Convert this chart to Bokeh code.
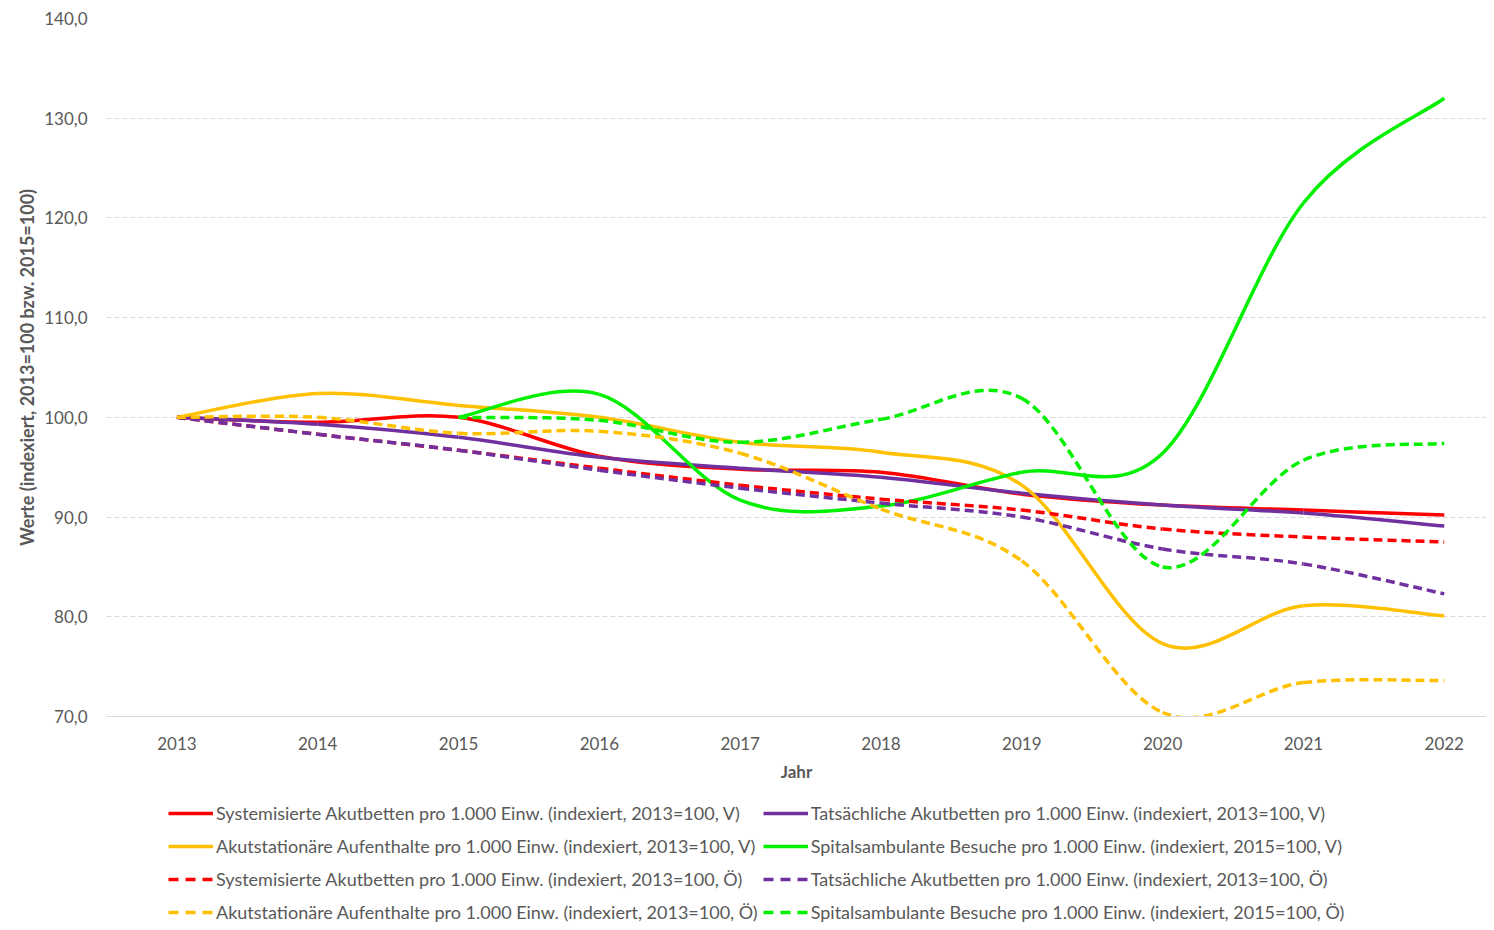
from bokeh.plotting import figure
from bokeh.layouts import column
from bokeh.models import Range1d, Legend, LegendItem, CustomJSTickFormatter, FixedTicker
from bokeh.embed import file_html
from bokeh.resources import INLINE

years = [2013, 2014, 2015, 2016, 2017, 2018, 2019, 2020, 2021, 2022]
sys_v = [100.0, 99.5, 100.0, 96.1, 94.8, 94.5, 92.3, 91.2, 90.7, 90.2]
tat_v = [100.0, 99.3, 98.0, 96.0, 94.9, 94.0, 92.4, 91.2, 90.4, 89.1]
akut_v = [100.0, 102.4, 101.2, 100.0, 97.5, 96.5, 93.2, 77.3, 81.1, 80.1]
spital_v = [None, None, 100.0, 102.3, 91.7, 91.1, 94.5, 96.4, 121.5, 132.0]
sys_o = [100.0, 98.3, 96.7, 94.9, 93.2, 91.8, 90.7, 88.8, 88.0, 87.5]
tat_o = [100.0, 98.3, 96.7, 94.7, 92.9, 91.4, 90.0, 86.8, 85.3, 82.3]
akut_o = [100.0, 100.0, 98.4, 98.6, 96.4, 90.8, 85.6, 70.4, 73.4, 73.6]
spital_o = [None, None, 100.0, 99.7, 97.5, 99.8, 101.9, 85.0, 95.7, 97.4]

labels = [
    "Systemisierte Akutbetten pro 1.000 Einw. (indexiert, 2013=100, V)",
    "Tatsächliche Akutbetten pro 1.000 Einw. (indexiert, 2013=100, V)",
    "Akutstationäre Aufenthalte pro 1.000 Einw. (indexiert, 2013=100, V)",
    "Spitalsambulante Besuche pro 1.000 Einw. (indexiert, 2015=100, V)",
    "Systemisierte Akutbetten pro 1.000 Einw. (indexiert, 2013=100, Ö)",
    "Tatsächliche Akutbetten pro 1.000 Einw. (indexiert, 2013=100, Ö)",
    "Akutstationäre Aufenthalte pro 1.000 Einw. (indexiert, 2013=100, Ö)",
    "Spitalsambulante Besuche pro 1.000 Einw. (indexiert, 2015=100, Ö)",
]
series = [sys_v, tat_v, akut_v, spital_v, sys_o, tat_o, akut_o, spital_o]
colors = ["#FF0000", "#7030A0", "#FFC000", "#00F000"] * 2
dashes = ["solid"] * 4 + ["9 5"] * 4

FONT = "Lato"
GREY = "#595959"

p = figure(width=1486, height=784, output_backend="svg", toolbar_location=None,
           x_range=Range1d(2012.5, 2022.3), y_range=Range1d(70, 140),
           min_border_left=106, min_border_right=0, min_border_top=18,
           min_border_bottom=68)
p.outline_line_color = None

def smooth_segments(xs, ys):
    pts = [(x, y) for x, y in zip(xs, ys) if y is not None]
    n = len(pts)
    d = dict(x0=[], y0=[], x1=[], y1=[], cx0=[], cy0=[], cx1=[], cy1=[])
    for i in range(n - 1):
        pp = pts[i - 1] if i > 0 else pts[i]
        p0 = pts[i]
        p1 = pts[i + 1]
        pn = pts[i + 2] if i + 2 < n else pts[i + 1]
        d["x0"].append(p0[0]); d["y0"].append(p0[1])
        d["x1"].append(p1[0]); d["y1"].append(p1[1])
        d["cx0"].append(p0[0] + (p1[0] - pp[0]) / 6.0)
        d["cy0"].append(p0[1] + (p1[1] - pp[1]) / 6.0)
        d["cx1"].append(p1[0] - (pn[0] - p0[0]) / 6.0)
        d["cy1"].append(p1[1] - (pn[1] - p0[1]) / 6.0)
    return d

for ys, c, dsh in zip(series, colors, dashes):
    d = smooth_segments(years, ys)
    p.bezier(x0=d["x0"], y0=d["y0"], x1=d["x1"], y1=d["y1"],
             cx0=d["cx0"], cy0=d["cy0"], cx1=d["cx1"], cy1=d["cy1"],
             line_color=c, line_width=3.5, line_dash=dsh)

# axes
p.xaxis.ticker = FixedTicker(ticks=years)
p.xaxis.formatter = CustomJSTickFormatter(code="return tick.toFixed(0);")
p.xaxis.axis_line_color = "#D9D9D9"
p.xaxis.major_tick_line_color = None
p.xaxis.minor_tick_line_color = None
p.xaxis.major_label_text_font = FONT
p.xaxis.major_label_text_font_size = "17px"
p.xaxis.major_label_text_color = GREY
p.xaxis.major_label_standoff = 14
p.xaxis.axis_label = "Jahr"
p.xaxis.axis_label_text_font = FONT
p.xaxis.axis_label_text_font_size = "17px"
p.xaxis.axis_label_text_font_style = "bold"
p.xaxis.axis_label_text_color = GREY
p.xaxis.axis_label_standoff = 8

p.yaxis.ticker = FixedTicker(ticks=[70, 80, 90, 100, 110, 120, 130, 140])
p.yaxis.formatter = CustomJSTickFormatter(code="return tick.toFixed(1).replace('.', ',');")
p.yaxis.axis_line_color = None
p.yaxis.major_tick_line_color = None
p.yaxis.minor_tick_line_color = None
p.yaxis.major_label_text_font = FONT
p.yaxis.major_label_text_font_size = "17px"
p.yaxis.major_label_text_color = GREY
p.yaxis.major_label_standoff = 13
p.yaxis.axis_label = "Werte (indexiert, 2013=100 bzw. 2015=100)"
p.yaxis.axis_label_text_font = FONT
p.yaxis.axis_label_text_font_size = "18px"
p.yaxis.axis_label_text_font_style = "bold"
p.yaxis.axis_label_text_color = GREY
p.yaxis.axis_label_standoff = 3

p.xgrid.grid_line_color = None
p.ygrid.ticker = FixedTicker(ticks=[80, 90, 100, 110, 120, 130, 140])
p.ygrid.grid_line_color = "#D9D9D9"
p.ygrid.grid_line_dash = "5 3"
p.ygrid.grid_line_width = 1

# legend figure below
lf = figure(width=1486, height=138, output_backend="svg", toolbar_location=None,
            x_range=Range1d(0, 1), y_range=Range1d(0, 1),
            x_axis_type=None, y_axis_type=None, min_border=0)
lf.outline_line_color = None
lf.xgrid.visible = False
lf.ygrid.visible = False
items = []
for l, c, dsh in zip(labels, colors, ["solid"] * 4 + ["10 7"] * 4):
    r = lf.line(x=[-10, -9], y=[-10, -9], line_color=c, line_width=3.5, line_dash=dsh)
    items.append(LegendItem(label=l, renderers=[r]))
legend = Legend(items=items, location=(62, -4), orientation="horizontal", ncols=2,
                padding=0, margin=0, spacing=5, border_line_color=None,
                background_fill_alpha=0, glyph_width=45, glyph_height=28,
                label_height=28, label_standoff=3,
                label_text_font=FONT, label_text_font_size="18px",
                label_text_color=GREY)
lf.add_layout(legend, "center")

open("out.html", "w").write(file_html(column(p, lf, spacing=0), INLINE))
